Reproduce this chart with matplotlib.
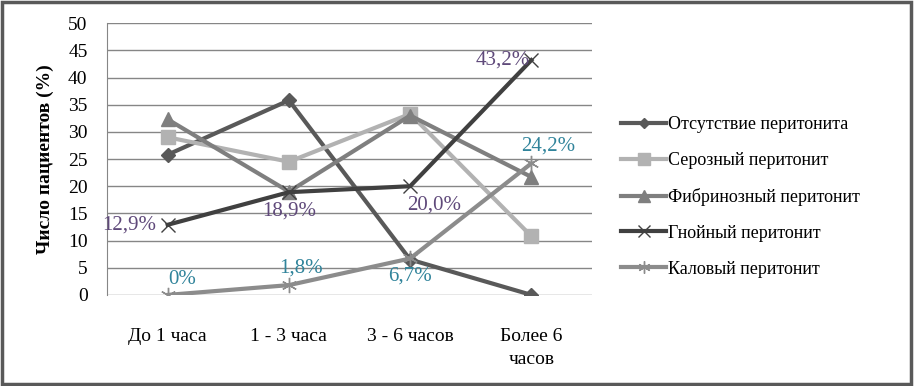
import matplotlib.pyplot as plt
from matplotlib.patches import Rectangle

plt.rcParams['font.family'] = ['Liberation Serif', 'DejaVu Serif']

categories = ['До 1 часа', '1 - 3 часа', '3 - 6 часов', 'Более 6\nчасов']
absent = [25.8, 35.8, 6.5, 0.0]
serous = [29.0, 24.5, 33.3, 10.8]
fibrinous = [32.3, 19.0, 33.0, 21.7]
purulent = [12.9, 18.9, 20.0, 43.2]
fecal = [0.0, 1.8, 6.7, 24.2]

purulent_labels = ['12,9%', '18,9%', '20,0%', '43,2%']
fecal_labels = ['0%', '1,8%', '6,7%', '24,2%']

fig = plt.figure(figsize=(9.15, 3.86), dpi=100)
ax = fig.add_axes([0.117, 0.236, 0.53, 0.704])

x = range(len(categories))
ax.plot(x, absent, color='#595959', lw=3, marker='D', ms=7, label='Отсутствие перитонита')
ax.plot(x, serous, color='#b2b2b2', lw=3, marker='s', ms=10, label='Серозный перитонит')
ax.plot(x, fibrinous, color='#7f7f7f', lw=3, marker='^', ms=10, label='Фибринозный перитонит')
ax.plot(x, purulent, color='#404040', lw=3, marker='x', ms=10, mew=1, label='Гнойный перитонит')
ax.plot(x, fecal, color='#8c8c8c', lw=3, marker=(6, 2, 0), ms=11, mew=1, label='Каловый перитонит')

# data labels
pur_pos = [(-0.32, 0), (0, -3.5), (0.2, -3.5), (-0.24, 0)]
for i, (dx, dy) in enumerate(pur_pos):
    ax.text(i + dx, purulent[i] + dy, purulent_labels[i], color='#5f497a',
            fontsize=15, ha='center', va='center')
cal_pos = [(0.12, 2.8), (0.1, 3.2), (0, -3.2), (0.14, 3.2)]
for i, (dx, dy) in enumerate(cal_pos):
    ax.text(i + dx, fecal[i] + dy, fecal_labels[i], color='#31849b',
            fontsize=15, ha='center', va='center')

ax.set_xlim(-0.5, 3.5)
ax.set_ylim(0, 50)
ax.set_yticks(range(0, 51, 5))
ax.set_xticks(list(x))
ax.set_xticklabels(categories, fontsize=14, linespacing=1.45)
ax.tick_params(axis='y', labelsize=14, length=0, pad=14)
ax.tick_params(axis='x', length=0, pad=24)
ax.grid(axis='y', color='#868686', lw=1)
ax.set_axisbelow(True)
for s in ['top', 'right', 'bottom']:
    ax.spines[s].set_visible(False)
ax.spines['left'].set_color('#868686')
ax.set_ylabel('Число пациентов (%)', fontsize=14, fontweight='bold', labelpad=10)

fig.legend(loc='center left', bbox_to_anchor=(0.679, 0.49), frameon=False,
           fontsize=13, labelspacing=1.05, handlelength=2.5, handletextpad=0.1,
           borderpad=0, borderaxespad=0, markerscale=0.8)

fig.patches.append(Rectangle((0.002, 0.004), 0.994, 0.992, transform=fig.transFigure,
                             fill=False, edgecolor='#595959', lw=2.5))

fig.savefig('out.png', dpi=100)
